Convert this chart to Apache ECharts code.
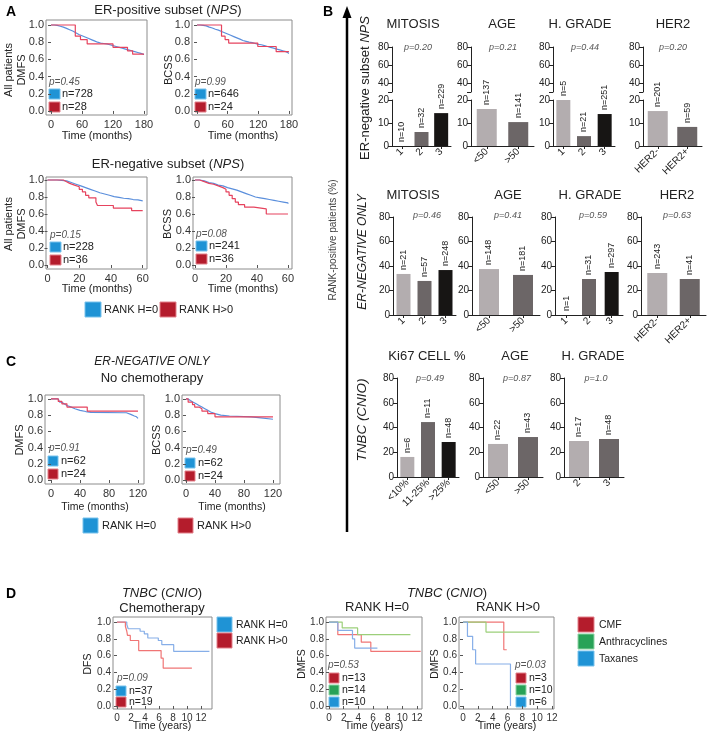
<!DOCTYPE html>
<html><head><meta charset="utf-8">
<script src="https://cdn.jsdelivr.net/npm/echarts@6/dist/echarts.min.js"></script>
<style>html,body{margin:0;padding:0;background:#fff}#c{width:709px;height:734px}</style>
</head><body><div id="c"></div><script>
const FF='"Liberation Sans", Arial, Helvetica, sans-serif';
const BLUE_LINE='#5b8fdc', RED_LINE='#e6435e';
const D_BLUE='#86aee8', D_RED='#f07575', D_GREEN='#9ccf7a';
const SQ_BLUE=['#1f93d5','#79c2ec'], SQ_RED=['#b41c2c','#e3808a'], SQ_GREEN=['#28a257','#8fd4a6'];
const BAR_COLORS=['#b3adaf','#6c6667','#171514'];

// ---------- tick labels ----------
const KM_Y_TICKS=[0,0.2,0.4,0.6,0.8,1.0];
const A_ERPOS_X_TICKS=[0,60,120,180];
const A_ERNEG_X_TICKS=[0,20,40,60];
const C_X_TICKS=[0,40,80,120];
const D_X_TICKS=[0,2,4,6,8,10,12];

// ---------- Panel A: KM curves ----------
const A1_dmfs_blue=[[0,1],[6,0.995],[12,0.985],[18,0.975],[24,0.96],[30,0.945],[36,0.93],[42,0.91],[48,0.89],[54,0.875],[60,0.86],[66,0.845],[72,0.83],[78,0.815],[84,0.80],[90,0.79],[96,0.785],[102,0.78],[108,0.77],[114,0.76],[120,0.75],[126,0.74],[132,0.73],[138,0.72],[144,0.71],[150,0.70],[156,0.69],[162,0.68],[168,0.67],[174,0.66],[179,0.65]];
const A1_dmfs_red=[[0,1],[47,0.87],[57,0.83],[70,0.78],[120,0.74],[148,0.70],[158,0.66],[180,0.66]];
const A2_bcss_blue=[[0,1],[6,0.995],[12,0.99],[18,0.975],[24,0.965],[30,0.95],[36,0.94],[42,0.925],[48,0.91],[54,0.895],[60,0.88],[66,0.865],[72,0.85],[78,0.835],[84,0.82],[90,0.81],[96,0.80],[102,0.795],[108,0.785],[114,0.775],[120,0.77],[126,0.76],[132,0.75],[138,0.74],[144,0.73],[150,0.72],[156,0.71],[162,0.70],[168,0.69],[174,0.675],[179,0.665]];
const A2_bcss_red=[[0,1],[48,0.87],[55,0.83],[62,0.79],[119,0.75],[155,0.69],[180,0.69]];
const A3_dmfs_blue=[[0,1],[6,0.995],[9,0.99],[12,0.97],[15,0.95],[18,0.93],[21,0.91],[24,0.89],[27,0.87],[30,0.85],[33,0.835],[36,0.82],[39,0.805],[42,0.795],[45,0.785],[48,0.78],[51,0.77],[54,0.765],[57,0.755],[60,0.75]];
const A3_dmfs_red=[[0,1],[10,0.98],[12,0.96],[14,0.94],[17,0.92],[20,0.89],[22,0.86],[24,0.82],[26,0.79],[30.5,0.74],[31.5,0.70],[41.5,0.67],[53,0.64],[60,0.64]];
const A4_bcss_blue=[[0,1],[3,0.99],[6,0.97],[9,0.96],[12,0.94],[15,0.93],[18,0.91],[21,0.895],[24,0.88],[27,0.86],[30,0.84],[33,0.82],[36,0.80],[39,0.79],[42,0.78],[45,0.77],[48,0.76],[51,0.75],[54,0.74],[57,0.73],[60,0.72]];
const A4_bcss_red=[[0,1],[3,0.98],[6,0.96],[9,0.95],[12,0.93],[15,0.91],[18,0.89],[20,0.86],[22,0.82],[24,0.78],[26,0.74],[28,0.71],[32,0.68],[38,0.66],[46,0.60],[60,0.60]];

// ---------- Panel C: KM curves ----------
const C1_dmfs_blue=[[0,1],[10,0.98],[12,0.96],[15,0.94],[18,0.92],[22,0.90],[28,0.88],[33,0.86],[40,0.845],[48,0.835],[55,0.83],[100,0.83],[104,0.81],[110,0.79],[115,0.78],[118,0.76],[120,0.76]];
const C1_dmfs_red=[[0,1],[10,0.97],[15,0.94],[22,0.90],[50,0.85],[120,0.85]];
const C2_bcss_blue=[[0,1],[3,0.98],[6,0.96],[10,0.94],[14,0.92],[18,0.90],[22,0.88],[26,0.86],[30,0.84],[34,0.82],[40,0.80],[48,0.79],[60,0.78],[90,0.77],[100,0.75],[120,0.75]];
const C2_bcss_red=[[0,1],[3,0.96],[9,0.93],[12,0.90],[18,0.88],[22,0.85],[30,0.82],[40,0.78],[120,0.78]];

// ---------- Panel D: KM curves ----------
const D1_dfs_blue=[[0,1],[1.4,0.97],[1.6,0.92],[3.3,0.89],[3.9,0.86],[4.4,0.81],[5.9,0.78],[6.4,0.73],[8.1,0.65],[13.2,0.65]];
const D1_dfs_red=[[0,1],[1.2,0.95],[1.4,0.89],[1.5,0.84],[1.9,0.78],[3.1,0.66],[6.3,0.57],[6.6,0.45],[10.7,0.45]];
const D2_cmf=[[0,1],[1.2,0.85],[4.4,0.76],[5.7,0.65],[12.5,0.65]];
const D2_anthra=[[0,1],[1.8,0.93],[3.9,0.85],[11.1,0.85]];
const D2_taxanes=[[0,1],[1.2,0.9],[3.2,0.8],[3.5,0.69],[6.6,0.69]];
const D3_cmf=[[0,1],[5.5,0.67],[5.9,0.67]];
const D3_anthra=[[0,1],[3.1,0.88],[10.3,0.88]];
const D3_taxanes=[[0,1],[0.6,0.83],[1.3,0.67],[1.7,0.5],[6.4,0.0]];

// ---------- Panel B: bar data (RANK-positive patients, %) ----------
const B1_mitosis_cats=['1','2','3'], B1_mitosis_vals=[0,6.1,14.3], B1_mitosis_n=['n=10','n=32','n=229'];
const B1_age_cats=['<50','>50'], B1_age_vals=[16.1,10.4], B1_age_n=['n=137','n=141'];
const B1_grade_cats=['1','2','3'], B1_grade_vals=[20,4.3,13.9], B1_grade_n=['n=5','n=21','n=251'];
const B1_her2_cats=['HER2-','HER2+'], B1_her2_vals=[15.2,8.3], B1_her2_n=['n=201','n=59'];
const B2_mitosis_cats=['1','2','3'], B2_mitosis_vals=[33.5,27.8,36.7], B2_mitosis_n=['n=21','n=57','n=248'];
const B2_age_cats=['<50','>50'], B2_age_vals=[37.5,32.7], B2_age_n=['n=148','n=181'];
const B2_grade_cats=['1','2','3'], B2_grade_vals=[0,29.4,35.1], B2_grade_n=['n=1','n=31','n=297'];
const B2_her2_cats=['HER2-','HER2+'], B2_her2_vals=[34.3,29.4], B2_her2_n=['n=243','n=41'];
const B3_ki67_cats=['<10%','11-25%','>25%'], B3_ki67_vals=[16.2,44.4,28.3], B3_ki67_n=['n=6','n=11','n=48'];
const B3_age_cats=['<50','>50'], B3_age_vals=[26.7,32.3], B3_age_n=['n=22','n=43'];
const B3_grade_cats=['2','3'], B3_grade_vals=[29.1,30.7], B3_grade_n=['n=17','n=48'];
const B_pvalues=[['p=0.20','p=0.21','p=0.44','p=0.20'],['p=0.46','p=0.41','p=0.59','p=0.63'],['p=0.49','p=0.87','p=1.0']];
const B_titles=[['MITOSIS','AGE','H. GRADE','HER2'],['MITOSIS','AGE','H. GRADE','HER2'],['Ki67 CELL %','AGE','H. GRADE']];

// ---------- builders ----------
const grids=[], xAxes=[], yAxes=[], series=[], graphics=[];
function T(x,y,text,o){o=o||{};
  const st={text, fontSize:o.fs||11, fontFamily:FF, fontStyle:o.it?'italic':'normal', fontWeight:o.bold?'bold':'normal', fill:o.color||'#222', align:o.align||'center', verticalAlign:'middle'};
  if(o.rich) st.rich=o.rich;
  graphics.push({type:'text', x, y, rotation:o.rot||0, silent:true, style:st});
}
function SQ(x,y,w,h,c){graphics.push({type:'rect', shape:{x,y,width:w,height:h}, silent:true, style:{fill:c[0], stroke:c[1], lineWidth:1}});}

function addKM(box, xr, yr, xticks, curves, fs){
  const gi=grids.length;
  grids.push({left:box[0], top:box[1], width:box[2], height:box[3], show:true, borderColor:'#8c8c8c', borderWidth:1});
  xAxes.push({gridIndex:gi, type:'value', min:xr[0], max:xr[1], axisLine:{show:false}, splitLine:{show:false},
    axisTick:{show:true, length:3, lineStyle:{color:'#555'}, customValues:xticks},
    axisLabel:{customValues:xticks, fontSize:fs, color:'#333', margin:4, fontFamily:FF}});
  yAxes.push({gridIndex:gi, type:'value', min:yr[0], max:yr[1], axisLine:{show:false}, splitLine:{show:false},
    axisTick:{show:true, length:3, lineStyle:{color:'#555'}, customValues:KM_Y_TICKS},
    axisLabel:{customValues:KM_Y_TICKS, formatter:v=>v.toFixed(1), fontSize:fs, color:'#333', margin:2, fontFamily:FF}});
  curves.forEach(c=>series.push({type:'line', xAxisIndex:gi, yAxisIndex:gi, data:c[0], step:'end', symbol:'none', silent:true, lineStyle:{color:c[1], width:1.2}, z:3}));
}

const ROWS=[
  {titleY:24, pY:47, broken:true, upper:{top:47,h:45,min:30,max:80}, lower:{top:100,h:46,min:0,max:20,interval:10}},
  {titleY:195, pY:215, top:217, h:98},
  {titleY:356, pY:378, top:378, h:99}
];
function barAxisY(gi,min,max,interval,ticks,labels){
  const y={gridIndex:gi, type:'value', min, max, splitLine:{show:false},
    axisLine:{show:true, lineStyle:{color:'#222', width:1}},
    axisTick:{show:true, length:4, lineStyle:{color:'#222'}},
    axisLabel:{fontSize:10, color:'#222', margin:3, fontFamily:FF}};
  if(interval) y.interval=interval;
  if(ticks){y.axisTick.customValues=ticks; y.axisLabel.customValues=labels;}
  return y;
}
function addBar(row, x0, x1, cats, vals, ns, title, titleX, p, pX){
  const R=ROWS[row];
  const bw=cats.length===3?14:20;
  const segs=R.broken?[R.upper,R.lower]:[{top:R.top,h:R.h,min:0,max:80,interval:20}];
  segs.forEach((s,si)=>{
    const gi=grids.length;
    const isLower = si===segs.length-1;
    grids.push({left:x0, top:s.top, width:x1-x0, height:s.h});
    xAxes.push({gridIndex:gi, type:'category', data:cats, show:isLower,
      axisLine:{show:true, lineStyle:{color:'#222'}},
      axisTick:{show:true, alignWithLabel:true, length:3, lineStyle:{color:'#222'}},
      axisLabel:{rotate:45, fontSize:10, color:'#222', margin:4, fontFamily:FF, interval:0}});
    if(R.broken && !isLower) yAxes.push(barAxisY(gi,s.min,s.max,null,[30,40,60,80],[40,60,80]));
    else yAxes.push(barAxisY(gi,s.min,s.max,s.interval));
    series.push({type:'bar', xAxisIndex:gi, yAxisIndex:gi, barWidth:bw, silent:true,
      data: isLower ? vals : [],
      itemStyle:{color:p2=>BAR_COLORS[p2.dataIndex]},
      label:{show:true, position:'top', rotate:90, align:'left', verticalAlign:'middle', distance:4,
        fontSize:9, color:'#222', fontFamily:FF, formatter:q=>ns[q.dataIndex]}});
  });
  T(titleX, R.titleY, title, {fs:13});
  T(pX, R.pY, p, {fs:9, it:true, color:'#555'});
}

// ---------- Panel A ----------
T(6,12,'A',{fs:14,bold:true,align:'left',color:'#000'});
const richT={n:{fontSize:13,fontFamily:FF,fill:'#222'}, i:{fontSize:13,fontFamily:FF,fontStyle:'italic',fill:'#222'}};
T(168,10,'{n|ER-positive subset (}{i|NPS}{n|)}',{rich:richT});
T(168,164,'{n|ER-negative subset (}{i|NPS}{n|)}',{rich:richT});
addKM([46,20,101,95],[-9.7,185.8],[-0.047,1.058],A_ERPOS_X_TICKS,[[A1_dmfs_blue,BLUE_LINE],[A1_dmfs_red,RED_LINE]],11);
addKM([192,20,100,95],[-9.8,186],[-0.047,1.058],A_ERPOS_X_TICKS,[[A2_bcss_blue,BLUE_LINE],[A2_bcss_red,RED_LINE]],11);
addKM([46,177,101,92],[-0.95,62.7],[-0.047,1.035],A_ERNEG_X_TICKS,[[A3_dmfs_blue,BLUE_LINE],[A3_dmfs_red,RED_LINE]],11);
addKM([193,177,99,92],[-1.3,62.6],[-0.047,1.035],A_ERNEG_X_TICKS,[[A4_bcss_blue,BLUE_LINE],[A4_bcss_red,RED_LINE]],11);
T(97,136,'Time (months)',{fs:11}); T(243,136,'Time (months)',{fs:11});
T(97,289,'Time (months)',{fs:11}); T(243,289,'Time (months)',{fs:11});
T(9,70,'All patients',{fs:11,rot:Math.PI/2}); T(22,70,'DMFS',{fs:11,rot:Math.PI/2});
T(169,70,'BCSS',{fs:11,rot:Math.PI/2});
T(9,224,'All patients',{fs:11,rot:Math.PI/2}); T(22,224,'DMFS',{fs:11,rot:Math.PI/2});
T(168,224,'BCSS',{fs:11,rot:Math.PI/2});
[[49,82,'p=0.45','n=728','n=28'],[195,82,'p=0.99','n=646','n=24'],[50,235,'p=0.15','n=228','n=36'],[196,234,'p=0.08','n=241','n=36']].forEach(a=>{
  T(a[0],a[1],a[2],{fs:10,it:true,color:'#555',align:'left'});
  SQ(a[0],a[1]+7,11,10,SQ_BLUE); T(a[0]+13,a[1]+12,a[3],{fs:11,align:'left'});
  SQ(a[0],a[1]+20,11,10,SQ_RED); T(a[0]+13,a[1]+25,a[4],{fs:11,align:'left'});
});
SQ(85,302,16,15,SQ_BLUE); T(104,310,'RANK H=0',{fs:11,align:'left'});
SQ(160,302,16,15,SQ_RED); T(179,310,'RANK H>0',{fs:11,align:'left'});

// ---------- Panel C ----------
T(6,362,'C',{fs:14,bold:true,align:'left',color:'#000'});
T(152,362,'ER-NEGATIVE ONLY',{fs:12,it:true});
T(152,378,'No chemotherapy',{fs:13});
addKM([45,395,99,89],[-8.3,128.3],[-0.049,1.049],C_X_TICKS,[[C1_dmfs_blue,BLUE_LINE],[C1_dmfs_red,RED_LINE]],11);
addKM([182,395,98,89],[-5.5,129.7],[-0.049,1.049],C_X_TICKS,[[C2_bcss_blue,BLUE_LINE],[C2_bcss_red,RED_LINE]],11);
T(95,507,'Time (months)',{fs:10.5}); T(232,507,'Time (months)',{fs:10.5});
T(20,440,'DMFS',{fs:11,rot:Math.PI/2}); T(157,440,'BCSS',{fs:11,rot:Math.PI/2});
[[49,448,'p=0.91','n=62','n=24'],[186,450,'p=0.49','n=62','n=24']].forEach(a=>{
  T(a[0],a[1],a[2],{fs:10,it:true,color:'#555',align:'left'});
  SQ(a[0]-1,a[1]+8,10,10,SQ_BLUE); T(a[0]+12,a[1]+13,a[3],{fs:11,align:'left'});
  SQ(a[0]-1,a[1]+21,10,10,SQ_RED); T(a[0]+12,a[1]+26,a[4],{fs:11,align:'left'});
});
SQ(83,518,15,15,SQ_BLUE); T(102,526,'RANK H=0',{fs:11,align:'left'});
SQ(178,518,15,15,SQ_RED); T(197,526,'RANK H>0',{fs:11,align:'left'});

// ---------- Panel B ----------
T(323,12,'B',{fs:14,bold:true,align:'left',color:'#000'});
graphics.push({type:'line', silent:true, shape:{x1:347,y1:532,x2:347,y2:16}, style:{stroke:'#000', lineWidth:2.5}});
graphics.push({type:'polygon', silent:true, shape:{points:[[347,6],[342.5,18],[351.5,18]]}, style:{fill:'#000'}});
T(333,240,'RANK-positive patients (%)',{fs:10,rot:Math.PI/2,color:'#444'});
T(365,88,'{n|ER-negative subset }{i|NPS}',{rot:Math.PI/2,rich:richT});
T(363,252,'ER-NEGATIVE ONLY',{fs:12,it:true,rot:Math.PI/2});
T(362,420,'TNBC (CNIO)',{fs:13.5,it:true,rot:Math.PI/2});

addBar(0,392,451,B1_mitosis_cats,B1_mitosis_vals,B1_mitosis_n,B_titles[0][0],413,B_pvalues[0][0],418);
addBar(0,471,534,B1_age_cats,B1_age_vals,B1_age_n,B_titles[0][1],502,B_pvalues[0][1],503);
addBar(0,553,615,B1_grade_cats,B1_grade_vals,B1_grade_n,B_titles[0][2],580,B_pvalues[0][2],585);
addBar(0,643,702,B1_her2_cats,B1_her2_vals,B1_her2_n,B_titles[0][3],673,B_pvalues[0][3],673);
addBar(1,393,456,B2_mitosis_cats,B2_mitosis_vals,B2_mitosis_n,B_titles[1][0],413,B_pvalues[1][0],427);
addBar(1,472,540,B2_age_cats,B2_age_vals,B2_age_n,B_titles[1][1],508,B_pvalues[1][1],508);
addBar(1,555,623,B2_grade_cats,B2_grade_vals,B2_grade_n,B_titles[1][2],590,B_pvalues[1][2],593);
addBar(1,641,706,B2_her2_cats,B2_her2_vals,B2_her2_n,B_titles[1][3],677,B_pvalues[1][3],677);
addBar(2,397,459,B3_ki67_cats,B3_ki67_vals,B3_ki67_n,B_titles[2][0],427,B_pvalues[2][0],430);
addBar(2,483,543,B3_age_cats,B3_age_vals,B3_age_n,B_titles[2][1],515,B_pvalues[2][1],517);
addBar(2,564,624,B3_grade_cats,B3_grade_vals,B3_grade_n,B_titles[2][2],593,B_pvalues[2][2],596);

// ---------- Panel D ----------
T(6,594,'D',{fs:14,bold:true,align:'left',color:'#000'});
T(162,593,'{i|TNBC}{n| (}{i|CNIO}{n|)}',{rich:richT});
T(447,593,'{i|TNBC}{n| (}{i|CNIO}{n|)}',{rich:richT});
T(162,608,'Chemotherapy',{fs:13}); T(377,607,'RANK H=0',{fs:13}); T(508,607,'RANK H>0',{fs:13});
addKM([113,617,99,92],[-0.57,13.57],[-0.036,1.06],D_X_TICKS,[[D1_dfs_blue,D_BLUE],[D1_dfs_red,D_RED]],10);
addKM([326,617,96,92],[-0.41,12.68],[-0.036,1.06],D_X_TICKS,[[D2_cmf,D_RED],[D2_anthra,D_GREEN],[D2_taxanes,D_BLUE]],10);
addKM([459,617,95,92],[-0.54,12.27],[-0.036,1.06],D_X_TICKS,[[D3_cmf,D_RED],[D3_anthra,D_GREEN],[D3_taxanes,D_BLUE]],10);
T(162,726,'Time (years)',{fs:10.5}); T(374,726,'Time (years)',{fs:10.5}); T(507,726,'Time (years)',{fs:10.5});
T(88,664,'DFS',{fs:10.5,rot:Math.PI/2}); T(302,664,'DMFS',{fs:10.5,rot:Math.PI/2}); T(435,664,'DMFS',{fs:10.5,rot:Math.PI/2});
T(117,678,'p=0.09',{fs:10,it:true,color:'#555',align:'left'});
SQ(116,686,10,10,SQ_BLUE); T(129,691,'n=37',{fs:10.5,align:'left'});
SQ(116,697,10,10,SQ_RED); T(129,702,'n=19',{fs:10.5,align:'left'});
[[328,'p=0.53',['n=13','n=14','n=10']],[515,'p=0.03',['n=3','n=10','n=6']]].forEach(a=>{
  T(a[0],665,a[1],{fs:10,it:true,color:'#555',align:'left'});
  [SQ_RED,SQ_GREEN,SQ_BLUE].forEach((c,i)=>{SQ(a[0]+1,673+i*12,10,10,c); T(a[0]+14,678+i*12,a[2][i],{fs:10.5,align:'left'});});
});
SQ(217,617,15,15,SQ_BLUE); T(236,625,'RANK H=0',{fs:10.5,align:'left'});
SQ(217,633,15,15,SQ_RED); T(236,641,'RANK H>0',{fs:10.5,align:'left'});
SQ(578,617,16,15,SQ_RED); T(599,625,'CMF',{fs:10.5,align:'left'});
SQ(578,634,16,15,SQ_GREEN); T(599,642,'Anthracyclines',{fs:10.5,align:'left'});
SQ(578,651,16,15,SQ_BLUE); T(599,659,'Taxanes',{fs:10.5,align:'left'});

const chart=echarts.init(document.getElementById('c'),null,{renderer:'canvas'});
chart.setOption({animation:false, backgroundColor:'#fff', grid:grids, xAxis:xAxes, yAxis:yAxes, series, graphic:{elements:graphics}});
</script></body></html>
